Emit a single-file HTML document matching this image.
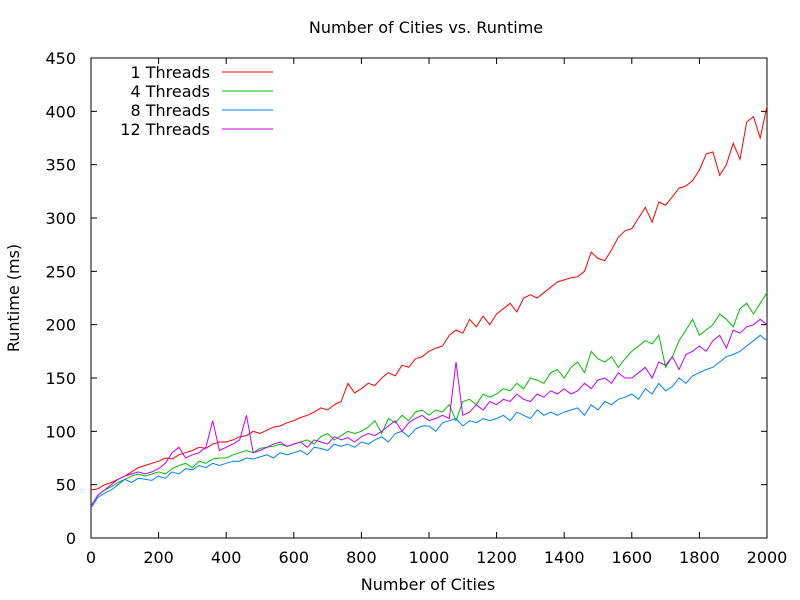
<!DOCTYPE html>
<html><head><meta charset="utf-8"><style>
body{margin:0;background:#fff}
svg{display:block;font-family:"DejaVu Sans","Liberation Sans",sans-serif;font-size:16px}
</style></head><body>
<svg id="chart" width="800" height="600" xmlns="http://www.w3.org/2000/svg">
<text x="426" y="33" text-anchor="middle">Number of Cities vs. Runtime</text>
<text x="428" y="590" text-anchor="middle">Number of Cities</text>
<text transform="translate(19,298) rotate(-90)" text-anchor="middle">Runtime (ms)</text>
<rect x="91" y="58" width="676" height="480" fill="none" stroke="#000" stroke-width="1"/>
<g id="axes"></g>
<g id="series"></g>
<g id="legend"></g>
</svg>
<script>
const xTicks=[0,200,400,600,800,1000,1200,1400,1600,1800,2000];
const yTicks=[0,50,100,150,200,250,300,350,400,450];
const seriesNames=["1 Threads","4 Threads","8 Threads","12 Threads"];
const seriesColors=["#ff0000","#00c000","#0080ff","#c000ff"];
const xStep=20;
const t1=[45,46,50,52,55,58,62,66,68,70,72,75,74,78,80,82,85,84,88,90,90,92,95,96,100,98,101,104,105,108,110,113,115,118,122,120,125,128,145,136,140,145,143,150,155,152,162,160,168,170,175,178,180,190,195,192,205,198,208,200,210,215,220,212,225,228,225,230,235,240,242,244,245,250,268,262,260,270,282,288,290,300,310,296,315,312,320,328,330,335,345,360,362,340,350,370,355,390,395,375,405];
const t4=[30,40,45,48,52,55,58,60,58,60,62,60,65,68,70,66,72,70,74,75,75,78,80,82,80,84,85,86,88,86,88,90,92,88,95,98,92,96,100,98,100,104,110,98,112,108,115,110,118,120,115,120,118,125,110,128,130,125,135,132,135,140,138,145,140,150,148,145,155,158,150,160,165,155,175,168,165,170,160,168,175,180,185,182,190,160,170,185,195,205,190,195,200,210,205,198,215,220,210,220,230];
const t8=[28,38,42,45,50,55,52,56,55,54,58,56,62,60,65,64,68,66,70,68,70,72,72,75,74,76,78,75,80,78,80,82,78,85,84,82,88,86,88,85,90,88,92,95,90,98,100,95,102,105,105,100,108,110,112,105,110,108,112,110,112,115,110,118,115,112,120,115,118,115,118,120,122,115,125,120,128,125,130,132,135,130,140,135,145,138,142,150,145,152,155,158,160,165,170,172,175,180,185,190,185];
const t12=[30,40,45,50,55,58,60,62,60,62,65,70,80,85,75,78,80,85,110,82,85,88,92,115,80,82,85,88,90,86,88,90,85,92,90,88,95,92,94,90,95,98,96,100,105,110,100,108,112,115,110,112,115,112,165,115,118,125,120,128,125,130,128,135,130,128,135,132,138,135,140,135,138,145,140,148,150,145,155,150,150,155,160,150,165,162,170,158,172,175,180,175,185,190,178,195,192,198,200,205,200];
const allSeries=[t1,t4,t8,t12];
const NS="http://www.w3.org/2000/svg";
const L=91,R=767,T=58,B=538;
const xs=v=>L+(v-0)/(2000-0)*(R-L);
const ys=v=>B-(v-0)/(450-0)*(B-T);
function mk(tag,attrs,parent){const e=document.createElementNS(NS,tag);for(const k in attrs)e.setAttribute(k,attrs[k]);parent.appendChild(e);return e;}
const axes=document.getElementById('axes');
xTicks.forEach(v=>{
  const x=xs(v);
  const t1e=mk('line',{x1:x,x2:x,y1:B,y2:B-6,stroke:'#000'},axes);
  
  
  const t2e=mk('line',{x1:x,x2:x,y1:T,y2:T+6,stroke:'#000'},axes);
  
  
  const lb=mk('text',{x:x,y:B+25,'text-anchor':'middle'},axes);
  lb.textContent=v;
  
  
});
yTicks.forEach(v=>{
  const y=ys(v);
  const a=mk('line',{x1:L,x2:L+6,y1:y,y2:y,stroke:'#000'},axes);
  
  
  const b=mk('line',{x1:R,x2:R-6,y1:y,y2:y,stroke:'#000'},axes);
  
  
  const lb=mk('text',{x:L-15,y:y+6,'text-anchor':'end'},axes);
  lb.textContent=v;
  
  
});
const sg=document.getElementById('series');
allSeries.forEach((arr,i)=>{
  const pts=arr.map((v,j)=>xs(j*xStep).toFixed(1)+','+ys(v).toFixed(1)).join(' ');
  const p=mk('polyline',{points:pts,fill:'none',stroke:seriesColors[i],'stroke-width':1},sg);
  
  
});
const lg=document.getElementById('legend');
seriesNames.forEach((n,i)=>{
  const y=72+i*19;
  const t=mk('text',{x:210,y:y+6,'text-anchor':'end'},lg);
  t.textContent=n;
  
  
  const l=mk('line',{x1:222,x2:273,y1:y,y2:y,stroke:seriesColors[i]},lg);
  
  
});
</script>
</body></html>
